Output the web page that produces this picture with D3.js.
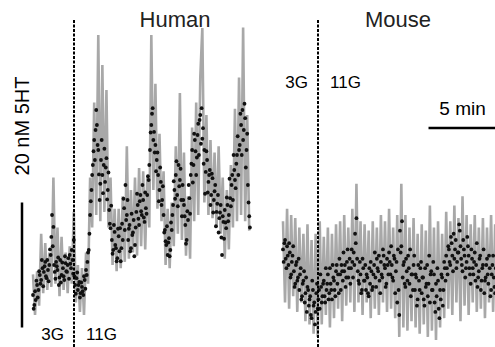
<!DOCTYPE html>
<html>
<head>
<meta charset="utf-8">
<script src="https://cdn.jsdelivr.net/npm/d3@7"></script>
<style>
  body { margin: 0; background: #fff; }
  svg { display: block; font-family: "Liberation Sans", Arial, sans-serif; }
</style>
</head>
<body>
<div id="chart"></div>
<script>
// 5HT signal in nM, trace sampled every 0.15 min, dots every 0.1 min
// (second dot series sits half a step later)
const traceStep = 0.15;
const dotStep = 0.1;

const humanTrace = [
  10.5, 4, 11, 5.5, 17, 7.5, 15.5, 8, 14, 8.5,
  26, 9, 18, 7, 16.5, 8, 14, 7.5, 15, 9,
  20.5, 6, 12, 4.5, 11.5, 4, 14, 9, 26, 18,
  38, 20, 48.8, 19, 44, 20.5, 40, 18, 26, 12,
  21, 11, 21, 11.5, 23, 12.5, 31, 13, 24, 14,
  26, 13.5, 27.5, 15, 27, 14.5, 26, 18, 48.8, 24,
  41, 21, 33, 19, 27, 12, 21, 11.5, 22, 15,
  31, 17, 39.5, 16, 30, 13.5, 23, 13, 34, 19,
  38, 20, 42, 49.9, 22, 36, 20, 32, 19.5, 30,
  18, 31, 17, 26, 13, 24, 14.5, 28, 18, 37,
  19, 42, 20, 50, 19, 36, 17.5
];

const humanDots = [
  7.2, 5.6, 6.4, 8.8, 8, 10.4, 9.6, 11.5, 10.9, 12.5,
  9.9, 11.2, 12, 13.6, 20, 18.1, 10.9, 12.5, 11.2, 8.8,
  12.8, 10.4, 11.5, 9.6, 12.3, 10.9, 13.1, 13.6, 11.5, 12.8,
  16, 8.8, 9.9, 8, 9.3, 7.5, 8.5, 7.2, 9.6, 11.2,
  12.5, 14.4, 20, 24, 28, 32, 33.6, 34.4, 30.4, 22.4,
  28.8, 26.4, 28, 25.3, 29.1, 24, 20.8, 17.9, 16, 14.4,
  17.3, 14.7, 13.1, 16.6, 17.9, 14.7, 16, 21.1, 24.8, 20,
  16, 18.4, 14.7, 16.8, 19.2, 15.2, 20.5, 21.6, 18.4, 23.2,
  20, 22.4, 18.9, 21.1, 23.2, 25.6, 30.4, 34.4, 37.1, 33.3,
  31.2, 28.8, 26.4, 24, 25.3, 22.4, 20, 17.6, 15.2, 13.6,
  16.3, 14.4, 17.6, 21.6, 24, 26.4, 23.2, 28, 25.6, 22.4,
  24.8, 21.6, 18.4, 16, 19.2, 22.7, 26.4, 30.4, 28, 32,
  26.4, 32.8, 29.6, 36, 37.1, 33.9, 30.4, 26.9, 28.8, 25.3,
  27.2, 23.2, 25.9, 22.4, 24.8, 20.5, 23.2, 19.5, 21.6, 13.6,
  18.9, 20.8, 17.9, 21.6, 20, 22.7, 24.8, 22.4, 27.2, 24.3,
  29.6, 26.4, 31.2, 34.4, 36.8, 33.6, 35.5, 30.4, 24.8, 19.8
];

const humanDots2 = [
  5, 7.8, 9.5, 6.8, 11, 9, 12.8, 8.6, 11.8, 10.2,
  12.8, 9.4, 14.5, 16.5, 15, 12, 9.8, 11.8, 13.2, 10,
  9.2, 12.4, 10.2, 13.4, 11, 12, 9.8, 12.2, 14.4, 10.6,
  10.2, 7.4, 10.8, 8.8, 6.8, 9.2, 7.8, 10.2, 8.2, 10.4,
  14, 17, 22.2, 26.4, 30.2, 28.8, 36.8, 31.2, 26.5, 25,
  32, 23.5, 30.6, 27.6, 22.5, 26.8, 18.6, 21.5, 13.8, 18.4,
  15.2, 12.6, 17.8, 14.2, 12.6, 18.6, 22.6, 17.6, 19.2, 22.4,
  17.8, 14.2, 20.2, 17.2, 13.4, 18, 23.4, 19.4, 22.2, 20.6,
  24.8, 19.6, 23.6, 20.2, 26.2, 28, 33.2, 36.2, 32, 30,
  27, 30, 22.2, 27.6, 21.6, 24.6, 17.2, 15.8, 18.2, 15.6,
  13.4, 18.8, 20, 25.4, 22.6, 28.6, 21.4, 24.6, 27.4, 19.8,
  22.4, 19.8, 15.4, 20.6, 24.8, 20.2, 28.2, 25.2, 33, 30.2,
  29.2, 34.6, 35.2, 31.4, 32.2, 28.2, 23.4, 30.2, 23.6, 26.4,
  21.6, 26.6, 20.4, 23.8, 18.2, 21.8, 17.2, 20.4, 16.4, 19.8,
  16.2, 18.8, 22.8, 19, 25.8, 21.4, 26.4, 29.6, 25.6, 28.2,
  32.6, 30.4, 36.2, 29.6, 32, 37.8, 27.6, 33, 22, 18
];

const mouseTrace = [
  19, 6, 21, 5, 20, 7, 19.5, 4.5, 18, 6,
  17, 3, 18.5, 2.5, 16, 1, 17, 0.5, 19, 2.5,
  16.5, 4, 18, 2, 17, 3.5, 18.5, 5, 19, 3,
  20, 5.5, 18, 6, 21, 4.5, 25, 6, 19, 4,
  18.5, 6, 17.5, 3.5, 19, 5, 18, 4, 20, 6,
  19, 4.5, 21, 5, 18, 3.5, 20, 0.5, 25, 2,
  20, 1.5, 18, 3, 19.5, 2, 17, 1, 18.5, 2.5,
  17.5, 0.5, 21.5, 1.5, 18, 0, 19, 2, 17, 3.5,
  20.5, 5, 19, 4, 21.5, 6, 19.5, 3, 23, 5.5,
  20, 4, 18.5, 6, 20, 4.5, 18, 5, 19.5, 3.5,
  18, 6, 20, 4.5, 18.5
];

const mouseDots = [
  14.5, 15.5, 13, 15, 12, 14, 10.5, 13.5, 11, 9,
  12.5, 10, 8, 11.5, 7, 9.5, 6, 10, 8.5, 5.5,
  7, 3.5, 8, 6, 4.5, 9, 6.5, 5, 8.5, 7,
  9.5, 6, 8, 10.5, 7.5, 9, 6.5, 10, 8, 11,
  9, 7.5, 10.5, 12, 9.5, 11, 8.5, 12.5, 10, 13,
  11.5, 12.5, 14, 17, 19.5, 11, 9, 10.5, 8, 11.5,
  9.5, 8, 10, 7, 9, 11, 8.5, 12, 10, 13,
  11, 9.5, 12.5, 10, 13.5, 11.5, 9, 12, 14, 10.5,
  12, 9.5, 13, 11, 6, 8, 17.5, 15, 10, 12.5,
  8.5, 11, 13.5, 9, 7, 10.5, 12, 8, 10, 6.5,
  9.5, 11.5, 7.5, 10, 5.5, 8.5, 12, 9, 6, 11,
  8, 10.5, 4.5, 7, 9.5, 3.5, 6.5, 10, 8, 11.5,
  13.5, 10.5, 14.5, 12, 15.5, 11, 13, 16, 12.5, 14,
  17.5, 13, 11, 14.5, 10, 12.5, 15, 11.5, 9, 13,
  10.5, 14, 12, 8.5, 11, 13.5, 9.5, 12, 7.5, 10,
  13, 9, 11.5, 8, 12, 10, 7.5
];

const mouseDots2 = [
  12.5, 16, 11.5, 13.5, 15.5, 10, 12.5, 15, 8.5, 12,
  9.5, 13, 10.5, 6.5, 9, 11, 7.5, 4.5, 8, 6.5,
  4, 9.5, 5.5, 2.5, 7.5, 5, 8, 10.5, 6, 9,
  7, 11.5, 9, 6.5, 11.5, 8, 12, 9.5, 7, 12,
  10.5, 13, 8, 11, 14, 12, 10, 14.5, 11.5, 9,
  14.5, 10, 12, 15.5, 13, 9.5, 12.5, 7.5, 13, 9.5,
  12, 10.5, 7.5, 11.5, 12.5, 8, 10.5, 14, 8.5, 11.5,
  13.5, 7.5, 10.5, 14.5, 12, 8.5, 13, 10.5, 12.5, 15,
  10, 13.5, 7.5, 12.5, 14.5, 4, 14, 19, 12, 9,
  13, 9.5, 11.5, 14.5, 10.5, 8, 13.5, 10.5, 5.5, 12,
  8, 12.5, 10, 6.5, 11.5, 9, 7, 13.5, 10.5, 8,
  12.5, 6, 9, 11.5, 5, 8, 10.5, 5.5, 12.5, 9.5,
  11.5, 15, 12.5, 16.5, 13.5, 17, 14.5, 11.5, 14, 18.5,
  15, 12, 16, 13.5, 11.5, 16.5, 13.5, 10.5, 14.5, 11.5,
  12.5, 9.5, 15.5, 10, 13, 8, 11.5, 14.5, 9.5, 12,
  10.5, 13.5, 7, 10.5, 13.5, 8.5, 11.5
];

const panelTitles = ['Human', 'Mouse'];
const switchTimes = [3.0, 2.6];   // min, 3G -> 11G
const conditionLabels = ['3G', '11G'];
const scaleBarNM = 20;
const scaleBarMin = 5;

const width = 495, height = 347;
const pxPerMin = 13.6;

const svg = d3.select('#chart').append('svg')
  .attr('width', width)
  .attr('height', height);

const y = d3.scaleLinear().domain([0, 52]).range([340, 15]);

const panels = [
  { title: panelTitles[0], trace: humanTrace, dots: [humanDots, humanDots2], switchAt: switchTimes[0],
    left: 33, titleX: 175, labelY: 340 },
  { title: panelTitles[1], trace: mouseTrace, dots: [mouseDots, mouseDots2], switchAt: switchTimes[1],
    left: 283, titleX: 398, labelY: 88 }
];

panels.forEach(p => {
  const x = d3.scaleLinear().domain([0, 16]).range([p.left, p.left + 16 * pxPerMin]);
  p.x = x;
  const g = svg.append('g');

  g.append('path')
    .datum(p.trace)
    .attr('d', d3.line().x((d, i) => x(i * traceStep)).y(d => y(d)))
    .attr('fill', 'none')
    .attr('stroke', '#a8a8a8')
    .attr('stroke-width', 2.6)
    .attr('stroke-linejoin', 'miter');

  p.dots.forEach((series, k) => {
    g.append('g')
      .selectAll('circle')
      .data(series)
      .join('circle')
      .attr('cx', (d, i) => x(i * dotStep + k * dotStep / 2))
      .attr('cy', d => y(d))
      .attr('r', 1.9)
      .attr('fill', '#111');
  });

  const sx = Math.round(x(p.switchAt));
  g.append('line')
    .attr('x1', sx).attr('x2', sx)
    .attr('y1', 20).attr('y2', height)
    .attr('stroke', '#000')
    .attr('stroke-width', 2)
    .attr('stroke-dasharray', '3,1.5');

  g.append('text')
    .attr('x', p.titleX).attr('y', 27)
    .attr('text-anchor', 'middle')
    .attr('font-size', 22)
    .attr('fill', '#222')
    .text(p.title);

  g.append('text')
    .attr('x', sx - 10).attr('y', p.labelY)
    .attr('text-anchor', 'end')
    .attr('font-size', 17)
    .text(conditionLabels[0]);

  g.append('text')
    .attr('x', sx + 12).attr('y', p.labelY)
    .attr('text-anchor', 'start')
    .attr('font-size', 17)
    .text(conditionLabels[1]);
});

// vertical scale bar (20 nM)
svg.append('line')
  .attr('x1', 22).attr('x2', 22)
  .attr('y1', y(2)).attr('y2', y(2 + scaleBarNM))
  .attr('stroke', '#000')
  .attr('stroke-width', 2.5);

svg.append('text')
  .attr('transform', 'translate(29,126) rotate(-90)')
  .attr('text-anchor', 'middle')
  .attr('font-size', 20)
  .text(`${scaleBarNM} nM 5HT`);

// horizontal scale bar (5 min)
const mx = panels[1].x;
const barStart = 10.7;
svg.append('line')
  .attr('x1', mx(barStart)).attr('x2', mx(barStart + scaleBarMin))
  .attr('y1', 128).attr('y2', 128)
  .attr('stroke', '#000')
  .attr('stroke-width', 2.5);

svg.append('text')
  .attr('x', mx(barStart + scaleBarMin / 2)).attr('y', 115)
  .attr('text-anchor', 'middle')
  .attr('font-size', 19)
  .text(`${scaleBarMin} min`);
</script>
</body>
</html>
